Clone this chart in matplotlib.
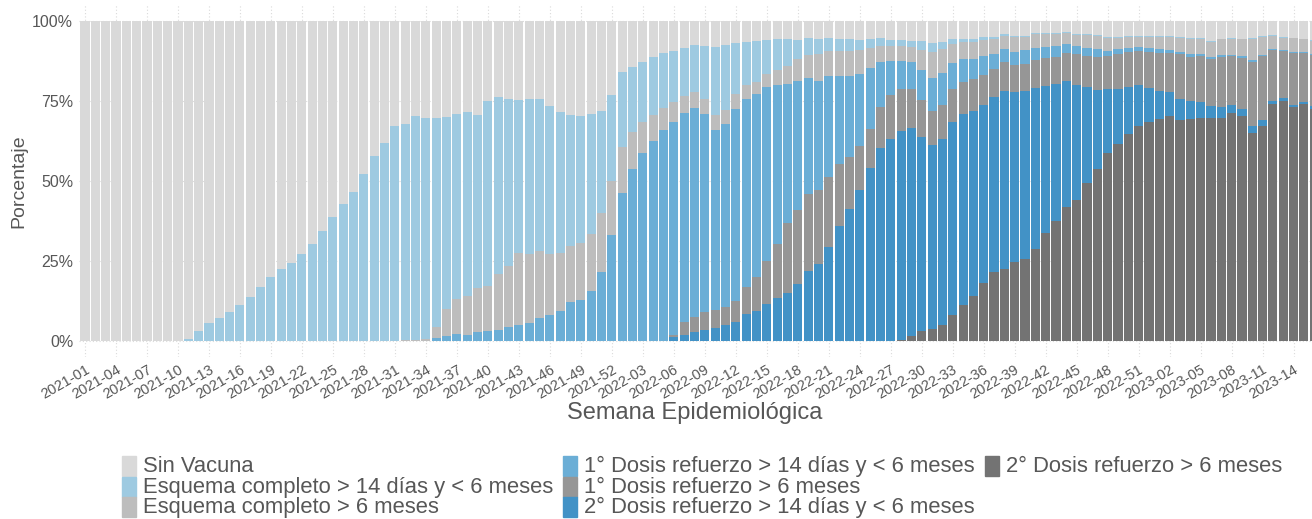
import matplotlib
matplotlib.use("Agg")
import matplotlib.pyplot as plt
from matplotlib.patches import Rectangle
import numpy as np

plt.rcParams['font.family'] = ['Liberation Sans', 'DejaVu Sans']

# semanas epidemiológicas (2021-01 .. 2023-16)
semanas = ([f"2021-{w:02d}" for w in range(1, 53)]
           + [f"2022-{w:02d}" for w in range(1, 53)]
           + [f"2023-{w:02d}" for w in range(1, 17)])

# porcentajes por categoría
sin_vacuna = [100.0] * 10 + [
    99.5, 97.0, 94.5, 92.7, 91.0, 88.7, 86.2, 83.1, 80.0, 77.5,
    75.6, 72.7, 69.8, 65.5, 61.2, 57.2, 53.3, 47.8, 42.2, 38.2,
    32.8, 32.3, 29.6, 30.3, 30.3, 29.9, 29.1, 28.5, 29.4, 25.1,
    23.6, 24.4, 24.7, 24.4, 24.3, 26.6, 28.3, 29.3, 29.8, 29.2,
    28.1, 23.1, 16.0, 14.5, 12.7, 11.1, 10.0, 9.3, 8.4, 7.6,
    7.8, 8.1, 7.5, 6.8, 6.6, 6.2, 5.9, 5.6, 5.6, 5.9,
    5.3, 5.5, 5.3, 5.5, 5.7, 5.8, 5.6, 5.4, 5.8, 5.9,
    6.1, 6.4, 6.9, 6.6, 5.6, 5.5, 5.6, 5.1, 5.0, 4.2,
    4.6, 4.6, 3.9, 3.9, 3.9, 3.5, 4.2, 4.2, 4.5, 5.1,
    5.0, 4.7, 4.8, 4.8, 4.8, 4.7, 5.1, 5.4, 5.4, 6.2,
    5.5, 5.4, 5.5, 5.4, 4.7, 4.4, 5.0, 5.2, 5.5, 6.0]

esq_14d = [0.0] * 10 + [
    0.5, 3.0, 5.5, 7.3, 9.0, 11.3, 13.8, 16.9, 20.0, 22.5,
    24.4, 27.3, 30.2, 34.5, 38.8, 42.8, 46.7, 52.2, 57.8, 61.8,
    67.1, 67.4, 70.1, 69.0, 65.4, 60.2, 57.8, 57.4, 54.0, 57.8,
    55.4, 52.2, 47.7, 48.3, 47.5, 46.3, 44.3, 41.0, 39.6, 37.3,
    31.8, 27.0, 23.3, 20.3, 19.0, 18.2, 17.1, 16.0, 14.9, 14.7,
    16.5, 21.3, 20.3, 16.1, 13.4, 12.8, 10.8, 9.8, 8.5, 6.1,
    5.3, 4.8, 4.1, 3.9, 3.7, 3.4, 2.9, 2.4, 2.0, 1.9,
    1.9, 2.7, 2.9, 2.0, 1.5, 1.1, 1.1, 0.8, 0.5, 0.5,
    0.4, 0.3, 0.3, 0.2, 0.2, 0.2, 0.2, 0.2, 0.3, 0.2,
    0.2, 0.2, 0.2, 0.2, 0.2, 0.2, 0.2, 0.2, 0.2, 0.2,
    0.2, 0.2, 0.2, 0.2, 0.2, 0.2, 0.2, 0.2, 0.2, 0.2]

esq_6m = [0.0] * 30 + [
    0.1, 0.3, 0.3, 0.6, 3.3, 8.3, 11.0, 12.1, 13.7, 13.9,
    17.5, 19.1, 22.6, 21.7, 21.1, 18.9, 17.9, 17.6, 17.8, 17.8,
    18.6, 16.7, 14.3, 11.4, 9.5, 8.1, 7.1, 6.2, 5.6, 4.9,
    4.8, 4.7, 4.4, 4.5, 4.3, 3.9, 3.9, 4.6, 5.5, 6.7,
    7.3, 8.3, 7.7, 7.7, 7.7, 7.5, 6.2, 5.1, 4.7, 4.7,
    4.9, 6.3, 7.9, 7.6, 6.0, 5.4, 5.1, 5.0, 4.9, 3.9,
    4.7, 4.3, 4.3, 4.0, 3.8, 3.5, 3.4, 3.9, 3.9, 4.0,
    3.5, 3.4, 3.1, 3.4, 3.7, 4.1, 4.3, 4.8, 4.8, 4.8,
    4.9, 5.0, 5.2, 6.6, 5.7, 4.3, 3.9, 4.4, 3.9, 4.2]

ref1_14d = [0.0] * 33 + [
    0.1, 1.0, 1.6, 2.1, 2.0, 2.9, 3.2, 3.5,
    4.3, 5.0, 5.6, 7.1, 8.2, 9.5, 12.1, 12.8, 15.7, 21.5,
    33.2, 46.4, 53.8, 58.8, 62.6, 65.8, 66.6, 65.3, 65.2, 61.7,
    56.3, 57.1, 60.0, 58.8, 57.0, 54.4, 49.8, 43.5, 40.4, 36.3,
    34.2, 31.8, 27.5, 25.3, 22.5, 19.2, 13.9, 10.5, 8.6, 8.4,
    9.3, 10.3, 9.9, 8.3, 7.1, 6.3, 6.0, 4.6, 4.3, 4.0,
    4.1, 3.8, 3.5, 3.2, 2.8, 2.6, 2.6, 2.4, 1.7, 1.7,
    1.5, 1.2, 1.3, 1.2, 1.0, 0.8, 0.8, 0.6, 0.6, 0.5,
    0.4, 0.6, 0.5, 0.3, 0.3, 0.3, 0.3, 0.3, 0.2]

ref1_6m = [0.0] * 57 + [
    0.7, 3.9, 4.9, 5.8, 5.5, 5.7, 6.6, 8.6, 10.6, 13.5,
    16.8, 21.8, 23.1, 23.8, 23.0, 21.8, 19.5, 16.2, 13.6, 12.0,
    12.9, 13.9, 13.2, 12.2, 11.4, 10.7, 10.8, 10.2, 10.0, 10.0,
    9.2, 8.7, 9.0, 8.6, 8.7, 8.5, 8.7, 8.7, 8.7, 9.6,
    9.6, 10.5, 10.2, 11.0, 10.9, 10.6, 11.3, 12.0, 12.1, 14.0,
    13.8, 14.4, 14.8, 15.9, 15.1, 16.0, 20.1, 20.0, 15.8, 14.8,
    16.0, 15.5, 15.9]

ref2_14d = [0.0] * 57 + [
    1.2, 1.9, 2.7, 3.4, 4.1, 5.0, 6.0, 8.3, 9.5, 11.5,
    13.4, 15.1, 17.8, 22.0, 24.2, 29.3, 35.9, 41.4, 47.2, 54.1,
    60.3, 63.1, 65.5, 64.9, 60.7, 57.4, 58.0, 60.2, 59.5, 57.7,
    55.7, 54.7, 55.6, 53.0, 52.3, 50.4, 46.1, 42.6, 39.4, 36.0,
    30.2, 24.5, 20.2, 17.0, 14.7, 12.9, 10.7, 8.6, 7.5, 6.5,
    5.5, 5.0, 3.7, 3.4, 2.7, 2.2, 2.3, 1.9, 1.0, 0.8,
    0.8, 0.6, 1.0]

ref2_6m = [0.0] * 79 + [
    0.2, 1.6, 3.2, 3.9, 5.1, 8.2, 11.4, 14.2, 18.2, 21.6,
    22.5, 24.7, 25.7, 28.8, 33.6, 37.6, 41.9, 44.0, 49.3, 53.9,
    58.6, 61.6, 64.6, 67.2, 68.3, 69.5, 70.4, 69.1, 69.5, 69.6,
    69.6, 69.6, 71.2, 70.3, 64.9, 67.2, 74.0, 75.0, 73.1, 74.0,
    72.5]

etiquetas = ["Sin Vacuna",
             "Esquema completo > 14 días y < 6 meses",
             "Esquema completo > 6 meses",
             "1° Dosis refuerzo > 14 días y < 6 meses",
             "1° Dosis refuerzo > 6 meses",
             "2° Dosis refuerzo > 14 días y < 6 meses",
             "2° Dosis refuerzo > 6 meses"]
colores = ["#D9D9D9", "#9ECAE1", "#BDBDBD", "#6BAED6",
           "#969696", "#4292C6", "#737373"]
series = [sin_vacuna, esq_14d, esq_6m, ref1_14d, ref1_6m, ref2_14d, ref2_6m]

W, H = 1312, 519
txt = "#575757"
fig = plt.figure(figsize=(W / 100, H / 100), dpi=100)
ax = fig.add_axes([78.8 / W, (H - 357) / H, 1 - 78.8 / W, 352 / H])

x = np.arange(len(semanas))
datos = np.array(series, dtype=float)
frac = datos / datos.sum(axis=0)

# apilado de abajo (2° refuerzo > 6 meses) hacia arriba (sin vacuna)
base = np.zeros(len(semanas))
for k in range(len(series) - 1, -1, -1):
    ax.bar(x, frac[k], bottom=base, width=0.88, color=colores[k],
           linewidth=0, zorder=2)
    base += frac[k]

ticks = x[::3]
ax.set_xticks(ticks)
ax.set_xticklabels([semanas[i] for i in ticks], rotation=30, ha='right',
                   rotation_mode='anchor', fontsize=10.5, color=txt)
ax.set_yticks([0, 0.25, 0.5, 0.75, 1.0])
ax.set_yticklabels(["0%", "25%", "50%", "75%", "100%"], fontsize=11.5, color=txt)
ax.tick_params(axis='both', length=0)
ax.tick_params(axis='y', pad=4)
ax.tick_params(axis='x', pad=4)
ax.set_xlim(-0.6, 118.78)
ax.set_ylim(-0.05, 1.05)
ax.grid(True, color="#DADADA", linestyle=(0, (1, 2)), linewidth=0.8, zorder=0)
ax.set_axisbelow(True)
for s in ax.spines.values():
    s.set_visible(False)

fig.text(19 / W, 1 - 181 / H, "Porcentaje", rotation=90, ha='center',
         va='center', fontsize=14, color=txt)
fig.text(695 / W, 1 - 413 / H, "Semana Epidemiológica", ha='center',
         va='center', fontsize=17, color=txt)

# leyenda en tres columnas
col_x = [122, 563, 985]
fila_y = [465, 486, 506]
pos = [(0, 0), (0, 1), (0, 2), (1, 0), (1, 1), (1, 2), (2, 0)]
for k, (c, r) in enumerate(pos):
    xk, yk = col_x[c], fila_y[r]
    fig.patches.append(Rectangle((xk / W, 1 - (yk + 10.5) / H), 14 / W, 19.5 / H,
                                 transform=fig.transFigure, color=colores[k]))
    fig.text((xk + 21) / W, 1 - (yk - 1) / H, etiquetas[k], ha='left',
             va='center_baseline', fontsize=15.8, color=txt)

fig.savefig("out.png", dpi=100)
